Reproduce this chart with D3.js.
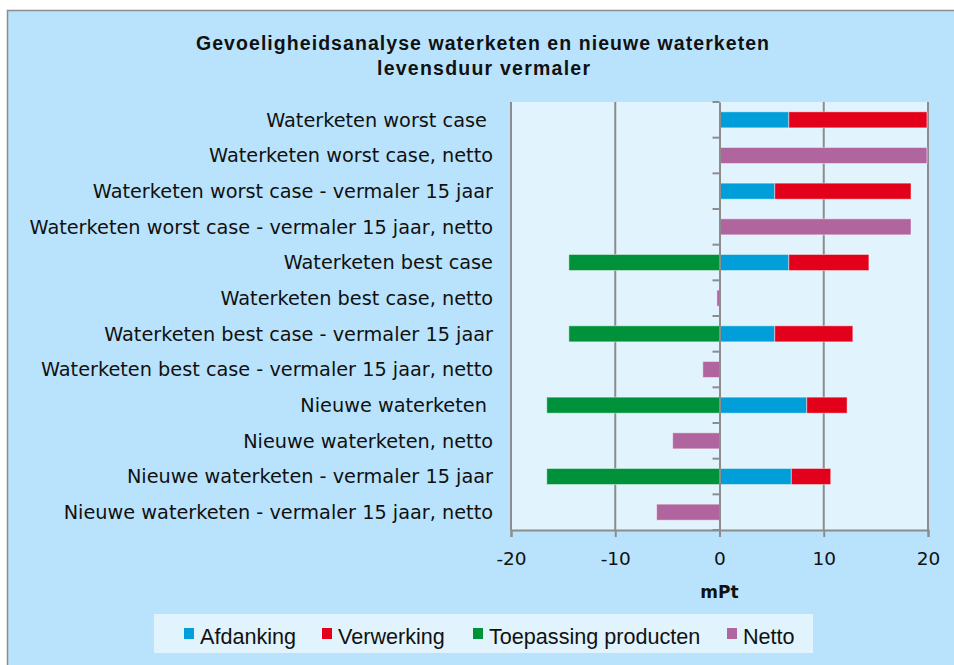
<!DOCTYPE html>
<html>
<head>
<meta charset="utf-8">
<script src="https://cdn.jsdelivr.net/npm/d3@7"></script>
<style>
  body { margin: 0; background: #fff; }
  svg text { white-space: pre; }
</style>
</head>
<body>
<svg id="chart" width="954" height="665"></svg>
<script>
// data (mPt)
const categories = [
  'Waterketen worst case ',
  'Waterketen worst case, netto',
  'Waterketen worst case - vermaler 15 jaar',
  'Waterketen worst case - vermaler 15 jaar, netto',
  'Waterketen best case',
  'Waterketen best case, netto',
  'Waterketen best case - vermaler 15 jaar',
  'Waterketen best case - vermaler 15 jaar, netto',
  'Nieuwe waterketen ',
  'Nieuwe waterketen, netto',
  'Nieuwe waterketen - vermaler 15 jaar',
  'Nieuwe waterketen - vermaler 15 jaar, netto'
];
const afdanking  = [6.65, 0, 5.3, 0, 6.65, 0, 5.3, 0, 8.37, 0, 6.89, 0];
const verwerking = [13.25, 0, 13.07, 0, 7.68, 0, 7.49, 0, 3.87, 0, 3.78, 0];
const toepassing = [0, 0, 0, 0, -14.45, 0, -14.45, 0, -16.57, 0, -16.57, 0];
const netto      = [0, 19.9, 0, 18.37, 0, -0.25, 0, -1.6, 0, -4.49, 0, -6.03];
const xTicks = [-20, -10, 0, 10, 20];

const seriesNames = ['Afdanking', 'Verwerking', 'Toepassing producten', 'Netto'];
const colors = ['#009fda', '#e2001a', '#00923a', '#b0659e'];

const svg = d3.select('#chart');

// outer chart area
svg.append('rect')
  .attr('x', 7.5).attr('y', 10.5)
  .attr('width', 960).attr('height', 670)
  .attr('fill', '#b9e3fc')
  .attr('stroke', '#8c8c8c')
  .attr('stroke-width', 1.5);

const margin = { left: 511, right: 928, top: 102, bottom: 530 };

const x = d3.scaleLinear()
  .domain([-20, 20])
  .range([margin.left, margin.right]);

const y = d3.scaleBand()
  .domain(categories)
  .range([margin.top, margin.bottom])
  .paddingInner(0.55)
  .paddingOuter(0.275);

// plot background
svg.append('rect')
  .attr('x', margin.left).attr('y', margin.top)
  .attr('width', margin.right - margin.left)
  .attr('height', margin.bottom - margin.top)
  .attr('fill', '#e1f3fd');

// vertical gridlines
svg.append('g')
  .selectAll('line')
  .data(xTicks.filter(d => d !== 0))
  .join('line')
  .attr('x1', d => x(d)).attr('x2', d => x(d))
  .attr('y1', margin.top).attr('y2', margin.bottom)
  .attr('stroke', '#8c8c8c')
  .attr('stroke-width', 2);

// stacked bars: positives stack right from 0, negatives left from 0
const series = [afdanking, verwerking, toepassing, netto];
const bars = [];
categories.forEach((c, i) => {
  let pos = 0, neg = 0;
  series.forEach((s, k) => {
    const v = s[i];
    if (v === 0) return;
    if (v > 0) { bars.push({ c, k, x0: pos, x1: pos + v }); pos += v; }
    else { bars.push({ c, k, x0: neg + v, x1: neg }); neg += v; }
  });
});

svg.append('g')
  .selectAll('rect')
  .data(bars)
  .join('rect')
  .attr('x', d => x(d.x0))
  .attr('y', d => y(d.c))
  .attr('width', d => x(d.x1) - x(d.x0))
  .attr('height', y.bandwidth())
  .attr('fill', d => colors[d.k])
  .attr('stroke', 'rgba(255,255,255,0.45)')
  .attr('stroke-width', 1);

// category axis on the zero line
const yAxis = svg.append('g')
  .attr('transform', `translate(${x(0)},0)`)
  .call(d3.axisLeft(y).tickSize(0).tickFormat(''));
yAxis.select('.domain').attr('stroke', '#8c8c8c').attr('stroke-width', 2);
const boundaries = d3.range(categories.length + 1).map(i => margin.top + i * y.step());
yAxis.selectAll('.bnd')
  .data(boundaries)
  .join('line')
  .attr('class', 'bnd')
  .attr('x1', -7).attr('x2', 0)
  .attr('y1', d => d).attr('y2', d => d)
  .attr('stroke', '#8c8c8c')
  .attr('stroke-width', 2);

// category labels
svg.append('g')
  .selectAll('text')
  .data(categories)
  .join('text')
  .attr('x', 493)
  .attr('y', d => y(d) + y.bandwidth() / 2)
  .attr('dy', '0.36em')
  .attr('text-anchor', 'end')
  .attr('font-family', 'DejaVu Sans')
  .attr('font-size', 19.3)
  .attr('fill', '#111')
  .text(d => d);

// value axis
const xAxis = svg.append('g')
  .attr('transform', `translate(0,${margin.bottom})`)
  .call(d3.axisBottom(x).tickValues(xTicks).tickSize(7).tickPadding(15).tickFormat(d3.format('d')));
xAxis.select('.domain').attr('stroke', '#8c8c8c').attr('stroke-width', 2);
xAxis.selectAll('.tick line').attr('stroke', '#8c8c8c').attr('stroke-width', 2);
xAxis.selectAll('.tick text')
  .attr('font-family', 'DejaVu Sans')
  .attr('font-size', 18.5)
  .attr('fill', '#111')
  .text(d => d < 0 ? '-' + Math.abs(d) : d);

svg.append('text')
  .attr('x', x(0)).attr('y', 598)
  .attr('text-anchor', 'middle')
  .attr('font-family', 'DejaVu Sans')
  .attr('font-weight', 'bold')
  .attr('font-size', 17)
  .attr('fill', '#111')
  .text('mPt');

// title
const title = svg.append('g')
  .attr('font-family', 'Liberation Sans')
  .attr('font-weight', 'bold')
  .attr('font-size', 19.5)
  .attr('fill', '#111');
title.append('text').attr('x', 196).attr('y', 50)
  .attr('textLength', 573).attr('lengthAdjust', 'spacing')
  .text('Gevoeligheidsanalyse waterketen en nieuwe waterketen');
title.append('text').attr('x', 377).attr('y', 75)
  .attr('textLength', 213).attr('lengthAdjust', 'spacing')
  .text('levensduur vermaler');

// legend
svg.append('rect')
  .attr('x', 154).attr('y', 614)
  .attr('width', 659).attr('height', 39)
  .attr('fill', '#e1f3fd');
const legendX = [184, 322, 473, 727];
const lg = svg.append('g')
  .selectAll('g')
  .data(seriesNames)
  .join('g')
  .attr('transform', (d, i) => `translate(${legendX[i]},0)`);
lg.append('rect')
  .attr('x', 0).attr('y', 628)
  .attr('width', 10).attr('height', 11)
  .attr('fill', (d, i) => colors[i]);
lg.append('text')
  .attr('x', 16).attr('y', 644)
  .attr('font-family', 'Liberation Sans')
  .attr('font-size', 21.6)
  .attr('fill', '#111')
  .text(d => d);
</script>
</body>
</html>
